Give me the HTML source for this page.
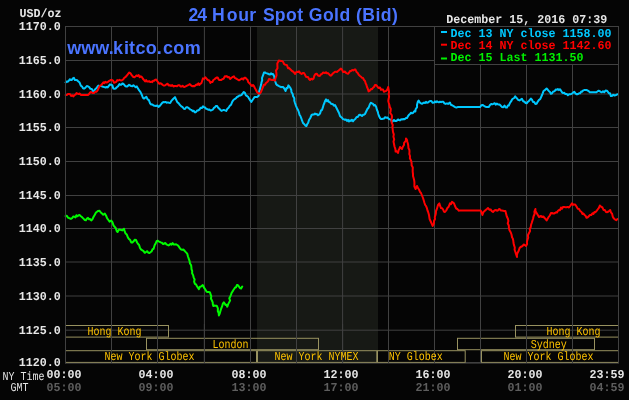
<!DOCTYPE html>
<html><head><meta charset="utf-8"><title>24 Hour Spot Gold (Bid)</title>
<style>html,body{margin:0;padding:0;background:#050505}svg{display:block}</style></head>
<body>
<svg width="629" height="400" viewBox="0 0 629 400">
<rect width="629" height="400" fill="#050505"/>
<rect x="257" y="27" width="121" height="336" fill="#171915"/>
<line x1="65.5" y1="26" x2="65.5" y2="363" stroke="#414141" stroke-width="1"/>
<line x1="111.5" y1="26" x2="111.5" y2="363" stroke="#414141" stroke-width="1"/>
<line x1="157.5" y1="26" x2="157.5" y2="363" stroke="#414141" stroke-width="1"/>
<line x1="204.4" y1="26" x2="204.4" y2="363" stroke="#414141" stroke-width="1"/>
<line x1="250.5" y1="26" x2="250.5" y2="363" stroke="#414141" stroke-width="1"/>
<line x1="296.5" y1="26" x2="296.5" y2="363" stroke="#414141" stroke-width="1"/>
<line x1="342.6" y1="26" x2="342.6" y2="363" stroke="#414141" stroke-width="1"/>
<line x1="388.5" y1="26" x2="388.5" y2="363" stroke="#414141" stroke-width="1"/>
<line x1="434.5" y1="26" x2="434.5" y2="363" stroke="#414141" stroke-width="1"/>
<line x1="480.5" y1="26" x2="480.5" y2="363" stroke="#414141" stroke-width="1"/>
<line x1="526.5" y1="26" x2="526.5" y2="363" stroke="#414141" stroke-width="1"/>
<line x1="572.5" y1="26" x2="572.5" y2="363" stroke="#414141" stroke-width="1"/>
<line x1="618.5" y1="26" x2="618.5" y2="363" stroke="#414141" stroke-width="1"/>
<line x1="65" y1="26.5" x2="619" y2="26.5" stroke="#414141" stroke-width="1"/>
<line x1="65" y1="60.5" x2="619" y2="60.5" stroke="#414141" stroke-width="1"/>
<line x1="65" y1="94.0" x2="619" y2="94.0" stroke="#414141" stroke-width="1"/>
<line x1="65" y1="127.5" x2="619" y2="127.5" stroke="#414141" stroke-width="1"/>
<line x1="65" y1="161.5" x2="619" y2="161.5" stroke="#414141" stroke-width="1"/>
<line x1="65" y1="195.5" x2="619" y2="195.5" stroke="#414141" stroke-width="1"/>
<line x1="65" y1="228.5" x2="619" y2="228.5" stroke="#414141" stroke-width="1"/>
<line x1="65" y1="262.0" x2="619" y2="262.0" stroke="#414141" stroke-width="1"/>
<line x1="65" y1="296.0" x2="619" y2="296.0" stroke="#414141" stroke-width="1"/>
<line x1="65" y1="330.2" x2="619" y2="330.2" stroke="#414141" stroke-width="1"/>
<line x1="65" y1="362.5" x2="619" y2="362.5" stroke="#414141" stroke-width="1"/>
<polyline points="65.6,82.4 66.7,81.4 67.7,81.8 68.8,80.8 69.8,79.2 70.8,80.1 71.8,80.0 72.8,78.4 73.9,77.9 74.9,80.0 76.0,80.0 77.2,80.3 78.4,81.6 79.6,82.6 80.8,85.6 82.0,86.5 83.2,88.5 84.4,88.5 85.6,87.5 86.8,86.0 88.0,86.4 89.2,87.1 90.4,88.8 91.8,89.0 93.1,91.2 94.3,90.5 95.5,88.8 96.5,88.2 97.4,86.7 98.4,85.6 99.6,85.9 100.7,86.1 101.9,86.4 103.1,86.8 104.4,87.1 105.6,87.5 106.7,87.0 107.7,87.4 108.8,85.9 110.0,84.3 111.2,84.8 112.3,85.1 113.3,88.5 114.4,88.8 115.6,88.5 116.8,87.2 118.2,86.1 119.5,84.0 120.5,84.8 121.4,84.7 122.4,83.5 123.6,84.0 124.8,85.6 126.0,86.5 127.2,86.4 128.2,85.6 129.1,84.8 130.1,85.4 131.2,86.1 132.3,86.2 133.4,85.2 134.6,86.3 135.7,87.3 136.8,86.4 138.0,88.4 139.2,90.4 140.4,91.9 141.6,94.4 142.6,96.9 143.5,98.4 144.5,98.4 145.4,97.3 146.4,96.8 147.6,99.4 148.8,100.0 150.0,103.2 151.2,104.5 152.4,104.5 153.6,105.6 154.8,105.8 156.0,106.0 157.3,105.5 158.5,106.9 159.8,105.9 161.0,104.4 162.2,102.9 163.3,102.1 164.3,102.2 165.4,101.9 166.6,102.7 167.8,102.4 169.0,102.7 170.2,102.9 171.6,100.6 172.9,99.2 173.9,98.2 175.0,97.1 176.2,99.8 177.4,102.4 178.5,103.0 179.5,104.5 180.6,105.6 181.7,106.7 182.7,107.2 183.8,108.8 185.0,109.0 186.2,107.2 187.3,107.2 188.3,107.8 189.4,108.8 190.5,109.6 191.5,109.9 192.6,111.2 193.8,110.8 195.0,112.5 196.1,111.8 197.1,110.6 198.2,110.4 199.4,109.6 200.6,107.7 201.8,108.1 203.0,106.4 204.1,107.2 205.1,107.5 206.2,108.8 207.3,109.1 208.3,109.8 209.4,109.6 210.6,110.6 211.7,110.1 212.9,109.6 213.9,107.9 214.8,107.3 215.8,106.1 217.0,105.9 218.2,107.7 219.3,108.8 220.3,109.8 221.4,110.9 222.6,110.4 223.8,109.9 225.0,110.4 226.2,110.9 227.4,108.8 228.6,107.7 229.8,105.8 231.0,104.8 232.2,101.9 233.4,100.0 234.6,99.2 235.8,98.4 237.0,97.0 238.2,96.5 239.4,95.5 240.6,95.5 241.6,94.9 242.7,93.3 243.8,92.0 244.9,92.8 245.9,95.4 247.0,96.0 248.2,97.1 249.4,99.2 250.4,100.6 251.3,101.9 252.4,100.3 253.4,98.8 254.7,96.9 256.0,97.0 257.2,97.0 258.4,96.0 259.5,93.8 259.1,91.5 259.9,89.2 260.4,87.0 261.1,84.8 261.5,82.5 262.2,80.2 262.0,78.0 263.0,75.3 264.0,72.6 265.0,72.4 266.0,73.1 267.0,73.4 268.0,73.8 269.0,74.2 270.0,74.6 271.0,73.4 272.0,74.2 273.0,74.0 274.3,76.5 274.4,79.0 275.3,81.5 276.1,84.0 277.0,85.0 278.0,85.5 279.0,86.1 280.0,86.6 281.0,87.2 282.0,86.9 283.0,87.0 284.3,88.5 285.6,91.0 286.5,88.1 287.5,88.3 288.4,85.4 289.4,86.7 290.4,88.0 291.3,90.0 291.4,92.0 292.7,94.0 293.0,96.0 294.3,98.3 294.3,100.7 295.0,103.0 296.0,105.8 297.0,108.2 298.0,110.0 298.8,112.0 299.6,115.0 300.4,116.0 301.3,118.3 302.1,120.7 303.0,123.0 304.1,124.0 305.3,125.5 306.4,126.0 307.3,124.0 308.1,123.0 309.0,120.0 310.3,118.0 311.6,115.0 312.7,114.5 313.9,114.6 315.0,113.6 316.0,114.3 317.0,114.1 318.0,115.3 319.0,114.6 320.0,113.6 321.0,110.5 322.0,110.0 322.8,107.7 323.6,104.8 324.4,103.0 325.2,100.7 326.0,99.4 327.0,101.3 328.0,100.1 329.0,102.0 330.0,102.2 331.0,103.8 332.0,104.0 333.0,104.3 334.0,105.7 335.0,105.0 336.0,107.0 337.0,109.0 338.0,111.0 339.0,113.0 340.0,116.0 341.0,117.0 342.0,117.8 343.0,119.1 344.0,119.4 345.0,119.9 346.0,119.5 347.0,121.0 348.0,119.8 349.0,121.5 350.0,120.3 351.0,121.0 352.0,119.7 353.0,121.3 354.0,120.0 355.3,119.0 356.6,117.0 357.8,117.0 359.0,115.0 360.0,114.8 361.0,115.2 362.0,116.0 363.0,114.8 364.0,114.7 365.0,114.0 366.2,111.5 367.4,109.0 368.7,107.5 370.0,104.0 371.0,102.7 372.0,103.4 373.0,103.9 374.0,105.5 375.0,105.0 376.0,106.5 377.0,110.0 377.7,111.5 378.3,114.0 379.0,116.0 380.0,118.0 381.0,119.0 382.0,118.9 383.0,118.7 384.0,118.6 385.1,117.2 386.3,117.8 387.4,117.4 388.7,118.9 390.0,119.4 391.0,119.7 392.0,122.0 393.0,121.0 394.0,120.0 395.0,121.0 396.0,121.0 397.0,120.5 398.0,119.5 399.0,120.0 400.0,120.4 401.0,119.3 402.0,119.6 403.0,119.0 404.0,119.4 405.0,118.9 406.0,118.0 407.0,118.0 408.0,116.2 409.0,114.8 410.0,114.0 411.0,112.7 412.0,113.3 413.0,113.0 414.2,111.2 415.4,111.4 415.6,109.3 417.1,107.1 417.0,105.0 417.8,101.8 418.6,100.6 419.8,102.5 421.0,103.4 422.0,103.8 423.0,103.2 424.0,102.6 425.0,103.0 426.0,101.9 427.0,102.7 428.0,102.6 429.1,101.6 430.3,101.0 431.4,101.0 432.7,102.8 434.0,102.6 435.0,101.4 436.0,102.3 437.0,101.2 438.0,102.0 439.0,102.3 440.0,101.7 441.1,102.2 442.1,101.7 443.2,101.7 444.4,103.3 445.6,103.9 446.8,103.4 448.0,103.9 448.9,103.2 449.9,102.5 450.9,104.8 452.0,105.2 453.1,105.8 454.1,106.5 455.2,107.1 456.4,107.6 457.6,107.1 458.7,107.1 459.8,107.1 461.0,107.1 462.1,107.1 463.2,107.1 464.3,107.1 465.4,107.1 466.6,107.1 467.7,107.1 468.8,107.1 469.9,107.1 471.0,107.1 472.2,107.1 473.3,107.1 474.4,107.1 475.5,107.1 476.6,107.1 477.8,107.1 478.9,107.1 480.0,107.1 481.2,105.5 482.4,104.9 483.5,105.5 484.5,106.2 485.6,106.8 486.7,106.9 487.7,107.0 488.8,107.1 490.0,105.0 491.2,103.9 492.3,104.3 493.4,103.8 494.6,103.2 495.7,104.7 496.8,103.6 498.1,104.5 499.5,104.4 500.8,105.8 502.1,107.1 503.3,107.3 504.5,105.5 505.7,107.5 506.9,107.6 507.9,105.5 508.8,105.5 510.0,102.8 511.2,101.2 512.2,99.3 513.3,98.5 514.2,98.0 515.2,96.4 516.2,97.6 517.3,98.8 518.4,100.1 519.5,100.4 520.7,99.6 521.9,98.8 523.2,101.2 524.5,101.7 525.6,103.0 526.7,103.3 527.8,101.8 528.8,101.2 529.8,99.9 530.9,98.6 532.0,99.8 533.0,101.9 534.2,102.0 535.4,104.0 536.6,103.8 537.8,101.6 539.0,99.9 540.2,99.2 541.0,97.3 541.8,95.5 542.6,93.6 543.5,91.0 544.5,90.4 545.5,89.5 546.6,88.5 547.8,89.8 549.0,91.2 550.0,92.0 550.9,93.8 551.9,93.6 553.2,91.4 554.6,91.2 555.7,89.5 556.7,89.8 557.8,89.1 558.9,90.1 559.9,89.2 561.0,90.7 562.1,92.4 563.1,93.1 564.2,92.8 565.4,94.1 566.7,93.9 567.9,95.2 569.1,94.3 570.2,94.3 571.4,93.9 572.4,93.2 573.3,92.4 574.3,91.7 575.6,93.6 577.0,94.4 578.1,94.0 579.1,93.2 580.2,93.3 581.2,91.5 582.2,91.7 583.2,90.4 584.2,90.1 585.5,90.1 586.9,90.1 587.9,90.8 588.8,91.1 589.8,92.3 590.9,92.3 591.9,92.3 593.0,92.3 594.1,92.3 595.1,92.3 596.2,92.3 597.4,91.5 598.6,90.7 599.7,91.2 600.7,91.8 601.8,92.3 603.0,91.3 604.2,92.3 605.5,90.5 606.9,90.7 608.0,92.0 609.0,93.3 610.0,93.2 610.9,96.1 611.9,96.0 613.2,94.8 614.6,95.5 616.0,95.0 617.3,94.4" fill="none" stroke="#00c8ff" stroke-width="2.0" stroke-linejoin="round" stroke-linecap="round"/>
<polyline points="65.6,94.9 66.8,94.9 68.0,93.9 69.1,94.1 70.1,94.3 71.2,96.0 72.3,95.2 73.3,96.5 74.4,95.2 75.5,94.7 76.5,93.1 77.6,93.6 78.7,94.0 79.7,93.5 80.8,94.9 81.8,94.9 82.9,94.9 83.9,94.9 84.9,94.9 85.9,94.9 87.0,94.9 88.0,94.9 89.1,93.9 90.1,92.5 91.2,92.0 92.6,93.0 93.9,93.1 95.1,91.7 96.4,91.8 97.6,90.4 98.8,87.5 100.0,85.6 101.2,85.2 102.4,83.7 103.4,82.4 104.4,83.1 105.4,81.7 106.4,82.4 107.5,82.3 108.7,81.2 109.8,80.6 110.9,80.0 112.0,80.1 113.1,80.7 114.1,82.8 115.2,82.4 116.3,81.8 117.3,80.1 118.4,80.5 119.6,79.8 120.8,80.5 122.0,80.2 123.2,79.5 124.3,77.8 125.3,77.2 126.4,76.0 127.4,74.8 128.3,73.7 129.3,72.5 130.5,73.3 131.7,75.2 133.1,76.8 134.4,77.3 135.5,76.4 136.5,75.4 137.6,76.0 138.7,75.1 139.7,77.2 140.8,76.3 141.9,77.0 142.9,78.8 144.0,80.0 145.1,81.5 146.1,80.1 147.2,81.6 148.2,81.6 149.2,81.1 150.2,82.1 151.2,81.6 152.2,82.1 153.2,80.7 154.2,80.7 155.2,79.7 156.2,79.6 157.2,81.0 158.2,82.4 159.3,83.8 160.3,83.3 161.4,83.7 162.5,84.8 163.5,85.5 164.6,85.6 165.6,85.0 166.5,84.3 167.5,83.7 168.7,85.4 169.8,85.2 171.0,85.9 172.2,85.0 173.4,86.5 174.6,86.0 175.8,86.1 177.0,86.2 178.2,85.2 179.4,85.3 180.6,86.4 181.6,86.5 182.6,85.7 183.6,86.8 184.6,86.9 185.6,86.4 186.6,85.8 187.6,85.3 188.6,84.8 189.8,84.1 191.0,85.4 192.2,86.3 193.4,86.1 194.4,86.3 195.4,85.4 196.4,84.6 197.4,84.8 198.4,83.4 199.4,85.0 200.4,83.6 201.4,83.2 202.2,80.8 203.0,78.4 204.2,78.8 205.4,77.3 206.6,78.7 207.8,80.0 209.2,80.5 210.5,82.9 211.5,81.9 212.4,82.0 213.4,80.0 214.5,79.2 215.5,78.4 216.6,77.6 217.7,77.4 218.7,79.7 219.8,80.0 221.0,80.1 222.2,79.2 223.6,78.8 224.9,76.3 225.9,76.6 226.8,76.0 227.8,77.3 229.0,77.1 230.2,78.9 231.6,77.8 232.9,76.8 233.9,76.3 234.8,77.9 235.8,78.4 236.9,79.0 237.9,79.7 239.0,80.3 240.1,79.7 241.1,79.0 242.2,78.4 243.3,79.5 244.3,77.7 245.4,77.8 246.5,78.9 247.5,79.8 248.4,82.3 249.4,83.2 251.0,85.0 252.0,86.0 253.0,85.0 254.0,86.2 255.0,88.3 256.0,90.0 257.0,92.0 258.0,93.0 259.0,93.7 260.0,93.3 261.0,92.0 262.0,89.5 263.0,87.0 264.0,84.7 265.0,84.8 266.0,83.0 267.0,82.2 268.0,81.3 269.0,79.0 270.0,79.3 271.0,79.7 272.0,80.0 273.0,79.7 274.0,79.9 275.0,80.6 275.5,78.1 276.5,75.5 276.4,73.0 276.0,70.6 277.5,68.2 277.4,65.9 277.3,63.5 278.8,60.6 279.9,60.7 280.9,60.9 282.0,61.0 283.0,61.7 284.0,63.9 285.0,64.6 286.0,64.9 287.0,65.3 288.0,68.2 289.0,68.0 290.0,69.0 291.0,70.0 292.0,71.0 293.0,71.5 294.0,72.5 295.0,74.0 296.0,72.3 297.0,71.7 298.0,72.1 299.0,71.4 300.3,73.2 301.6,74.0 302.8,73.0 304.0,73.0 305.0,74.8 306.0,76.7 307.0,77.0 308.0,77.0 309.0,79.0 310.0,80.0 311.2,78.7 312.4,79.4 313.5,78.6 314.5,75.3 315.6,74.0 316.7,73.7 317.9,75.3 319.0,76.0 320.0,75.7 321.0,74.3 322.0,73.9 323.0,72.6 324.0,72.8 325.0,73.0 326.0,72.2 327.0,73.4 328.0,73.1 329.0,74.2 330.0,75.4 331.0,75.7 332.0,74.5 333.0,73.3 334.0,72.6 335.0,71.7 336.0,71.8 337.0,71.9 338.0,71.0 339.0,70.2 340.0,69.4 341.0,68.6 342.0,69.7 343.0,71.9 344.0,72.0 345.0,71.5 346.0,72.9 347.0,73.4 348.0,73.8 349.0,72.7 350.0,71.1 351.0,71.0 352.2,70.0 353.4,70.4 354.6,69.4 355.5,69.5 356.5,72.0 357.4,72.6 358.7,74.8 360.0,76.0 361.0,76.7 362.0,77.8 363.0,78.0 364.0,80.0 365.0,81.0 365.7,83.5 366.3,84.5 367.0,87.0 367.8,88.7 368.6,91.4 369.8,90.7 371.0,89.0 372.0,89.3 373.0,87.7 374.0,87.0 375.0,85.0 376.0,85.0 377.0,86.0 378.0,87.5 379.0,88.0 380.0,87.5 381.0,89.9 382.0,89.4 383.0,89.6 384.0,91.7 385.0,91.4 386.2,90.9 387.4,89.4 388.2,87.0 388.6,89.4 389.0,91.8 388.7,94.2 389.1,96.6 388.6,99.0 388.3,101.0 388.8,103.0 389.4,105.0 389.8,107.0 390.8,109.0 390.6,111.0 390.2,113.0 391.7,115.0 392.0,117.0 391.6,119.0 391.5,121.0 391.7,123.0 392.8,125.0 392.4,127.0 392.7,129.5 393.0,132.0 393.8,134.4 393.4,136.8 394.2,139.2 393.5,141.6 394.0,144.0 394.5,146.5 395.4,149.1 395.6,151.6 396.8,151.3 398.0,153.0 398.7,150.0 399.3,149.0 400.0,147.0 401.0,148.0 402.0,149.0 403.0,146.5 404.0,145.0 404.1,142.8 405.9,140.6 406.0,138.4 407.0,140.0 407.4,142.0 408.0,144.0 408.3,146.0 408.4,148.0 409.4,150.0 409.5,152.0 409.3,154.0 410.0,156.0 409.9,158.3 411.1,160.7 411.6,163.0 411.6,165.2 412.8,167.4 412.7,169.6 412.7,171.8 413.0,174.0 413.0,176.0 413.6,178.0 414.1,180.0 414.4,182.0 414.4,184.0 414.4,186.5 415.6,189.0 417.0,186.0 418.0,188.2 419.0,189.5 420.0,191.8 421.0,193.0 422.0,195.5 423.0,198.0 423.8,200.5 424.5,203.0 425.2,205.0 426.0,206.0 426.8,207.8 427.5,210.5 428.2,212.2 429.0,215.0 429.3,217.0 429.6,219.0 430.5,221.0 431.4,223.0 432.6,226.0 433.9,223.5 434.0,221.0 435.0,219.0 434.8,217.0 435.5,215.0 435.9,213.0 436.0,211.0 436.7,209.5 437.3,207.5 438.0,205.0 439.4,203.4 440.2,206.2 441.0,208.0 442.0,208.2 443.0,209.4 444.0,211.7 445.0,212.0 446.2,210.5 447.4,208.0 448.7,206.7 450.0,203.4 451.0,204.1 452.0,201.9 453.0,202.6 454.0,203.3 455.0,206.0 456.2,208.5 457.4,209.0 458.7,210.7 460.0,210.4 461.1,210.4 462.2,210.4 463.3,210.4 464.3,210.4 465.4,210.4 466.5,210.4 467.6,210.4 468.7,210.4 469.8,210.4 470.8,210.4 471.9,210.4 473.0,210.4 474.1,210.4 475.2,210.4 476.3,210.4 477.3,210.4 478.4,210.4 479.5,210.4 480.6,210.4 481.5,212.2 482.4,215.0 483.5,212.0 484.6,211.0 485.7,210.0 486.9,209.0 488.0,208.0 489.3,209.7 490.6,209.4 491.8,211.2 493.0,212.0 494.0,210.8 495.0,210.2 496.0,210.0 497.0,210.7 498.0,210.3 499.0,209.0 500.0,209.5 501.0,210.6 502.0,210.6 503.1,210.7 504.3,210.9 505.4,211.0 506.1,213.8 506.8,216.5 507.9,218.8 508.4,221.0 507.7,223.2 508.8,225.5 508.9,227.8 509.5,230.2 510.8,232.5 511.5,234.5 512.1,237.5 512.8,238.5 513.3,240.8 513.5,243.0 514.0,245.2 514.8,247.5 514.6,249.7 515.3,251.8 516.0,254.0 517.0,257.0 516.9,255.0 517.5,253.0 518.6,251.0 519.6,248.0 520.6,247.0 521.6,246.5 522.6,246.0 523.6,244.5 524.6,245.0 526.0,246.0 527.1,244.0 526.9,242.0 527.4,240.0 528.2,237.7 527.9,235.3 529.0,233.0 530.1,231.0 529.7,229.0 530.8,227.0 531.0,225.0 531.7,223.0 532.3,221.0 533.0,219.0 533.5,216.5 534.6,214.0 534.4,211.5 535.4,209.0 535.4,211.0 536.6,213.0 537.8,215.0 539.0,217.0 540.0,216.5 541.0,216.0 542.0,217.0 543.3,216.5 544.6,218.0 545.6,219.2 546.6,220.4 547.6,218.7 548.6,217.0 549.8,215.5 551.0,213.0 552.0,213.0 553.0,213.5 554.0,213.5 555.0,213.0 556.0,212.2 557.0,212.5 558.0,210.8 559.0,210.0 560.0,210.2 561.0,207.5 562.0,208.8 563.0,207.0 564.2,207.1 565.4,207.2 566.6,207.3 567.8,206.9 569.0,207.5 570.5,205.5 572.0,203.3 573.0,204.9 574.0,204.5 575.2,204.5 576.5,206.5 577.8,208.8 579.0,209.0 580.2,211.0 581.5,212.0 582.5,214.0 583.5,213.5 584.5,215.0 585.5,215.8 586.5,217.7 587.5,217.5 588.8,216.2 590.0,215.0 591.2,215.1 592.5,213.2 593.5,213.9 594.5,212.0 595.5,212.2 596.8,210.6 598.0,209.0 598.9,207.8 599.8,205.5 600.6,206.2 601.5,207.0 602.5,207.5 603.5,210.0 604.8,210.0 606.0,212.0 607.2,212.2 608.5,211.5 609.4,210.8 610.2,210.0 611.1,212.8 612.0,213.5 612.8,216.8 613.5,218.0 615.0,219.5 616.2,220.2 617.5,219.0" fill="none" stroke="#ff0000" stroke-width="2.0" stroke-linejoin="round" stroke-linecap="round"/>
<polyline points="65.6,216.0 66.8,215.8 68.0,217.6 69.0,218.0 69.9,218.5 70.9,218.9 72.1,218.2 73.2,216.5 74.4,216.8 75.4,217.5 76.4,215.2 77.4,216.3 78.4,215.5 79.5,214.9 80.5,215.9 81.6,216.8 82.7,217.9 83.7,218.9 84.8,220.0 85.9,220.3 86.9,218.6 88.0,217.9 89.1,219.3 90.1,219.1 91.2,220.5 92.4,219.2 93.6,216.8 94.8,214.7 96.0,212.5 97.0,211.7 98.1,210.9 99.4,210.7 100.8,212.5 102.0,213.6 103.2,214.7 104.8,213.6 106.0,215.5 107.2,218.4 108.4,220.0 109.6,221.6 111.2,220.5 112.4,222.1 113.6,225.6 114.7,226.8 115.7,228.0 116.7,231.0 117.6,232.0 118.8,229.8 120.0,229.6 121.2,230.0 122.4,230.4 124.0,228.8 124.8,231.7 125.6,233.6 126.8,234.6 128.0,237.6 129.1,239.2 130.1,239.8 131.2,242.4 132.4,242.4 133.6,241.3 134.8,239.7 136.0,240.0 137.1,242.5 138.1,244.0 139.1,245.0 140.0,248.0 141.2,249.7 142.4,250.4 143.6,251.1 144.8,252.8 146.0,252.0 147.2,251.2 148.2,252.6 149.3,253.1 150.4,252.3 151.5,251.5 152.6,249.2 153.6,248.8 154.6,245.3 155.5,243.8 156.6,241.2 157.6,240.7 158.6,241.3 159.7,241.8 160.7,242.4 161.9,242.8 163.1,244.1 164.3,243.5 165.4,243.0 166.4,244.4 167.4,244.9 168.5,245.4 169.5,244.8 170.6,243.8 171.6,244.7 172.6,243.1 173.8,244.5 174.9,244.4 176.1,244.3 177.3,245.0 178.5,246.1 179.7,247.8 180.9,249.4 182.1,249.9 183.3,249.5 184.3,250.5 185.3,251.6 186.3,252.6 187.2,253.6 188.0,256.5 188.8,258.8 189.6,261.1 189.9,263.2 191.1,265.2 191.4,267.3 191.5,269.2 192.2,271.2 192.1,273.2 193.1,275.1 193.6,277.3 194.6,279.5 194.1,281.7 194.9,283.9 195.8,284.2 196.6,285.6 197.8,287.4 198.9,289.1 199.9,286.8 201.0,286.5 201.9,285.8 202.8,285.1 203.7,287.2 204.5,288.3 205.6,290.1 206.6,291.8 207.8,292.0 208.9,292.1 209.8,292.2 210.6,294.4 211.3,296.4 210.9,298.5 211.9,300.5 212.7,302.4 212.8,304.2 213.3,306.1 214.2,305.5 215.0,305.8 215.9,305.8 216.8,305.8 217.9,308.4 217.8,311.0 218.7,313.2 218.9,315.4 219.6,313.9 220.3,311.4 221.2,308.5 222.0,306.7 222.9,303.5 223.8,302.3 224.7,303.6 225.5,304.9 226.4,304.8 227.3,306.7 228.2,304.1 229.0,302.6 230.1,300.5 229.3,298.3 230.4,296.2 231.1,294.4 231.7,292.7 232.6,291.4 233.4,290.0 234.3,288.7 235.2,287.4 236.1,287.2 236.9,285.1 237.8,285.1 238.7,286.2 240.1,288.3 241.1,288.4 242.2,286.5" fill="none" stroke="#00fa00" stroke-width="2.0" stroke-linejoin="round" stroke-linecap="round"/>
<rect x="65.5" y="325.5" width="103.0" height="11.600000000000023" fill="none" stroke="#989260" stroke-width="1"/>
<rect x="515.5" y="325.5" width="103.0" height="11.600000000000023" fill="none" stroke="#989260" stroke-width="1"/>
<rect x="146.5" y="338.3" width="172.0" height="11.399999999999977" fill="none" stroke="#989260" stroke-width="1"/>
<rect x="457.5" y="338.3" width="137.0" height="11.399999999999977" fill="none" stroke="#989260" stroke-width="1"/>
<rect x="65.5" y="350.7" width="191.0" height="11.699999999999989" fill="none" stroke="#989260" stroke-width="1"/>
<rect x="257.5" y="350.7" width="119.30000000000001" height="11.699999999999989" fill="none" stroke="#989260" stroke-width="1"/>
<rect x="377.5" y="350.7" width="87.69999999999999" height="11.699999999999989" fill="none" stroke="#989260" stroke-width="1"/>
<rect x="481.5" y="350.7" width="137.0" height="11.699999999999989" fill="none" stroke="#989260" stroke-width="1"/>
<line x1="111.5" y1="324" x2="111.5" y2="363" stroke="#414141" stroke-width="1"/>
<line x1="157.5" y1="324" x2="157.5" y2="363" stroke="#414141" stroke-width="1"/>
<line x1="204.4" y1="324" x2="204.4" y2="363" stroke="#414141" stroke-width="1"/>
<line x1="250.5" y1="324" x2="250.5" y2="363" stroke="#414141" stroke-width="1"/>
<line x1="296.5" y1="324" x2="296.5" y2="363" stroke="#414141" stroke-width="1"/>
<line x1="342.6" y1="324" x2="342.6" y2="363" stroke="#414141" stroke-width="1"/>
<line x1="388.5" y1="324" x2="388.5" y2="363" stroke="#414141" stroke-width="1"/>
<line x1="434.5" y1="324" x2="434.5" y2="363" stroke="#414141" stroke-width="1"/>
<line x1="480.5" y1="324" x2="480.5" y2="363" stroke="#414141" stroke-width="1"/>
<line x1="526.5" y1="324" x2="526.5" y2="363" stroke="#414141" stroke-width="1"/>
<line x1="572.5" y1="324" x2="572.5" y2="363" stroke="#414141" stroke-width="1"/>
<line x1="65.5" y1="26" x2="65.5" y2="363.5" stroke="#414141" stroke-width="1"/>
<line x1="618.5" y1="26" x2="618.5" y2="363.5" stroke="#414141" stroke-width="1"/>
<line x1="65" y1="363.3" x2="618.5" y2="363.3" stroke="#414141" stroke-width="0.8"/>
<text x="87.4" y="334.9" font-family="Liberation Mono, DejaVu Sans Mono, monospace" text-rendering="geometricPrecision" font-size="12.1" fill="#ffc400" textLength="54" lengthAdjust="spacingAndGlyphs">Hong Kong</text>
<text x="546.6" y="334.9" font-family="Liberation Mono, DejaVu Sans Mono, monospace" text-rendering="geometricPrecision" font-size="12.1" fill="#ffc400" textLength="54" lengthAdjust="spacingAndGlyphs">Hong Kong</text>
<text x="212.5" y="347.8" font-family="Liberation Mono, DejaVu Sans Mono, monospace" text-rendering="geometricPrecision" font-size="12.1" fill="#ffc400" textLength="36" lengthAdjust="spacingAndGlyphs">London</text>
<text x="530.7" y="347.8" font-family="Liberation Mono, DejaVu Sans Mono, monospace" text-rendering="geometricPrecision" font-size="12.1" fill="#ffc400" textLength="36" lengthAdjust="spacingAndGlyphs">Sydney</text>
<text x="104.6" y="360.0" font-family="Liberation Mono, DejaVu Sans Mono, monospace" text-rendering="geometricPrecision" font-size="12.1" fill="#ffc400" textLength="90" lengthAdjust="spacingAndGlyphs">New York Globex</text>
<text x="274.6" y="360.0" font-family="Liberation Mono, DejaVu Sans Mono, monospace" text-rendering="geometricPrecision" font-size="12.1" fill="#ffc400" textLength="84" lengthAdjust="spacingAndGlyphs">New York NYMEX</text>
<text x="388.8" y="360.0" font-family="Liberation Mono, DejaVu Sans Mono, monospace" text-rendering="geometricPrecision" font-size="12.1" fill="#ffc400" textLength="54" lengthAdjust="spacingAndGlyphs">NY Globex</text>
<text x="503.5" y="360.0" font-family="Liberation Mono, DejaVu Sans Mono, monospace" text-rendering="geometricPrecision" font-size="12.1" fill="#ffc400" textLength="90" lengthAdjust="spacingAndGlyphs">New York Globex</text>
<text x="19.5" y="16.9" font-family="Liberation Mono, DejaVu Sans Mono, monospace" text-rendering="geometricPrecision" font-weight="bold" font-size="12.1" fill="#e6e6e6" textLength="42" lengthAdjust="spacingAndGlyphs">USD/oz</text>
<text x="18.7" y="30.0" font-family="Liberation Mono, DejaVu Sans Mono, monospace" text-rendering="geometricPrecision" font-weight="bold" font-size="12.1" fill="#e6e6e6" textLength="42" lengthAdjust="spacingAndGlyphs">1170.0</text>
<text x="18.7" y="64.0" font-family="Liberation Mono, DejaVu Sans Mono, monospace" text-rendering="geometricPrecision" font-weight="bold" font-size="12.1" fill="#e6e6e6" textLength="42" lengthAdjust="spacingAndGlyphs">1165.0</text>
<text x="18.7" y="97.5" font-family="Liberation Mono, DejaVu Sans Mono, monospace" text-rendering="geometricPrecision" font-weight="bold" font-size="12.1" fill="#e6e6e6" textLength="42" lengthAdjust="spacingAndGlyphs">1160.0</text>
<text x="18.7" y="131.0" font-family="Liberation Mono, DejaVu Sans Mono, monospace" text-rendering="geometricPrecision" font-weight="bold" font-size="12.1" fill="#e6e6e6" textLength="42" lengthAdjust="spacingAndGlyphs">1155.0</text>
<text x="18.7" y="165.0" font-family="Liberation Mono, DejaVu Sans Mono, monospace" text-rendering="geometricPrecision" font-weight="bold" font-size="12.1" fill="#e6e6e6" textLength="42" lengthAdjust="spacingAndGlyphs">1150.0</text>
<text x="18.7" y="199.0" font-family="Liberation Mono, DejaVu Sans Mono, monospace" text-rendering="geometricPrecision" font-weight="bold" font-size="12.1" fill="#e6e6e6" textLength="42" lengthAdjust="spacingAndGlyphs">1145.0</text>
<text x="18.7" y="232.0" font-family="Liberation Mono, DejaVu Sans Mono, monospace" text-rendering="geometricPrecision" font-weight="bold" font-size="12.1" fill="#e6e6e6" textLength="42" lengthAdjust="spacingAndGlyphs">1140.0</text>
<text x="18.7" y="265.5" font-family="Liberation Mono, DejaVu Sans Mono, monospace" text-rendering="geometricPrecision" font-weight="bold" font-size="12.1" fill="#e6e6e6" textLength="42" lengthAdjust="spacingAndGlyphs">1135.0</text>
<text x="18.7" y="299.5" font-family="Liberation Mono, DejaVu Sans Mono, monospace" text-rendering="geometricPrecision" font-weight="bold" font-size="12.1" fill="#e6e6e6" textLength="42" lengthAdjust="spacingAndGlyphs">1130.0</text>
<text x="18.7" y="333.7" font-family="Liberation Mono, DejaVu Sans Mono, monospace" text-rendering="geometricPrecision" font-weight="bold" font-size="12.1" fill="#e6e6e6" textLength="42" lengthAdjust="spacingAndGlyphs">1125.0</text>
<text x="18.7" y="366.0" font-family="Liberation Mono, DejaVu Sans Mono, monospace" text-rendering="geometricPrecision" font-weight="bold" font-size="12.1" fill="#e6e6e6" textLength="42" lengthAdjust="spacingAndGlyphs">1120.0</text>
<text x="46.5" y="377.9" font-family="Liberation Mono, DejaVu Sans Mono, monospace" text-rendering="geometricPrecision" font-weight="bold" font-size="12.1" fill="#e6e6e6" textLength="35" lengthAdjust="spacingAndGlyphs">00:00</text>
<text x="46.5" y="390.9" font-family="Liberation Mono, DejaVu Sans Mono, monospace" text-rendering="geometricPrecision" font-weight="bold" font-size="12.1" fill="#5e5e5e" textLength="35" lengthAdjust="spacingAndGlyphs">05:00</text>
<text x="138.5" y="377.9" font-family="Liberation Mono, DejaVu Sans Mono, monospace" text-rendering="geometricPrecision" font-weight="bold" font-size="12.1" fill="#e6e6e6" textLength="35" lengthAdjust="spacingAndGlyphs">04:00</text>
<text x="138.5" y="390.9" font-family="Liberation Mono, DejaVu Sans Mono, monospace" text-rendering="geometricPrecision" font-weight="bold" font-size="12.1" fill="#5e5e5e" textLength="35" lengthAdjust="spacingAndGlyphs">09:00</text>
<text x="231.5" y="377.9" font-family="Liberation Mono, DejaVu Sans Mono, monospace" text-rendering="geometricPrecision" font-weight="bold" font-size="12.1" fill="#e6e6e6" textLength="35" lengthAdjust="spacingAndGlyphs">08:00</text>
<text x="231.5" y="390.9" font-family="Liberation Mono, DejaVu Sans Mono, monospace" text-rendering="geometricPrecision" font-weight="bold" font-size="12.1" fill="#5e5e5e" textLength="35" lengthAdjust="spacingAndGlyphs">13:00</text>
<text x="323.6" y="377.9" font-family="Liberation Mono, DejaVu Sans Mono, monospace" text-rendering="geometricPrecision" font-weight="bold" font-size="12.1" fill="#e6e6e6" textLength="35" lengthAdjust="spacingAndGlyphs">12:00</text>
<text x="323.6" y="390.9" font-family="Liberation Mono, DejaVu Sans Mono, monospace" text-rendering="geometricPrecision" font-weight="bold" font-size="12.1" fill="#5e5e5e" textLength="35" lengthAdjust="spacingAndGlyphs">17:00</text>
<text x="415.5" y="377.9" font-family="Liberation Mono, DejaVu Sans Mono, monospace" text-rendering="geometricPrecision" font-weight="bold" font-size="12.1" fill="#e6e6e6" textLength="35" lengthAdjust="spacingAndGlyphs">16:00</text>
<text x="415.5" y="390.9" font-family="Liberation Mono, DejaVu Sans Mono, monospace" text-rendering="geometricPrecision" font-weight="bold" font-size="12.1" fill="#5e5e5e" textLength="35" lengthAdjust="spacingAndGlyphs">21:00</text>
<text x="507.5" y="377.9" font-family="Liberation Mono, DejaVu Sans Mono, monospace" text-rendering="geometricPrecision" font-weight="bold" font-size="12.1" fill="#e6e6e6" textLength="35" lengthAdjust="spacingAndGlyphs">20:00</text>
<text x="507.5" y="390.9" font-family="Liberation Mono, DejaVu Sans Mono, monospace" text-rendering="geometricPrecision" font-weight="bold" font-size="12.1" fill="#5e5e5e" textLength="35" lengthAdjust="spacingAndGlyphs">01:00</text>
<text x="589.6" y="377.9" font-family="Liberation Mono, DejaVu Sans Mono, monospace" text-rendering="geometricPrecision" font-weight="bold" font-size="12.1" fill="#e6e6e6" textLength="35" lengthAdjust="spacingAndGlyphs">23:59</text>
<text x="589.6" y="390.9" font-family="Liberation Mono, DejaVu Sans Mono, monospace" text-rendering="geometricPrecision" font-weight="bold" font-size="12.1" fill="#5e5e5e" textLength="35" lengthAdjust="spacingAndGlyphs">04:59</text>
<text x="2.5" y="379.8" font-family="Liberation Mono, DejaVu Sans Mono, monospace" text-rendering="geometricPrecision" font-size="12.1" fill="#e6e6e6" textLength="42" lengthAdjust="spacingAndGlyphs">NY Time</text>
<text x="10.5" y="391.0" font-family="Liberation Mono, DejaVu Sans Mono, monospace" text-rendering="geometricPrecision" font-size="12.1" fill="#e6e6e6" textLength="18" lengthAdjust="spacingAndGlyphs">GMT</text>
<text x="446.3" y="23.0" font-family="Liberation Mono, DejaVu Sans Mono, monospace" text-rendering="geometricPrecision" font-weight="bold" font-size="12.1" fill="#e6e6e6" textLength="161" lengthAdjust="spacingAndGlyphs">December 15, 2016 07:39</text>
<rect x="434.5" y="26.5" width="184" height="38" fill="#050505" stroke="#414141" stroke-width="1"/>
<text x="450.5" y="37.0" font-family="Liberation Mono, DejaVu Sans Mono, monospace" text-rendering="geometricPrecision" font-weight="bold" font-size="12.1" fill="#00c8ff" textLength="161" lengthAdjust="spacingAndGlyphs">Dec 13 NY close 1158.00</text>
<text x="450.5" y="49.0" font-family="Liberation Mono, DejaVu Sans Mono, monospace" text-rendering="geometricPrecision" font-weight="bold" font-size="12.1" fill="#ff0000" textLength="161" lengthAdjust="spacingAndGlyphs">Dec 14 NY close 1142.60</text>
<text x="450.5" y="61.1" font-family="Liberation Mono, DejaVu Sans Mono, monospace" text-rendering="geometricPrecision" font-weight="bold" font-size="12.1" fill="#00f000" textLength="133" lengthAdjust="spacingAndGlyphs">Dec 15 Last 1131.50</text>
<rect x="441" y="31" width="6" height="2" fill="#00c8ff"/>
<rect x="441" y="43.7" width="6" height="2" fill="#ff0000"/>
<rect x="441" y="57.5" width="6" height="2" fill="#00f000"/>
<text x="188.5" y="21" font-family="Liberation Sans, Arial, sans-serif" font-weight="bold" font-size="17.6" fill="#4a74ff" letter-spacing="0.45" dx="0 -1.5 0 -0.8 1.5 0.4 -0.2 0 1.0 -0.4">24 Hour Spot Gold (Bid)</text>
<text x="67.3" y="53.8" font-family="Liberation Sans, Arial, sans-serif" font-weight="bold" font-size="18" fill="#4a74ff" letter-spacing="0.12" dx="0 -0.1 -0.1 -0.1 -0.8 0.8 -0.2 0.5 0 0 1.1 0 0.5">www.kitco.com</text>
</svg>
</body></html>
